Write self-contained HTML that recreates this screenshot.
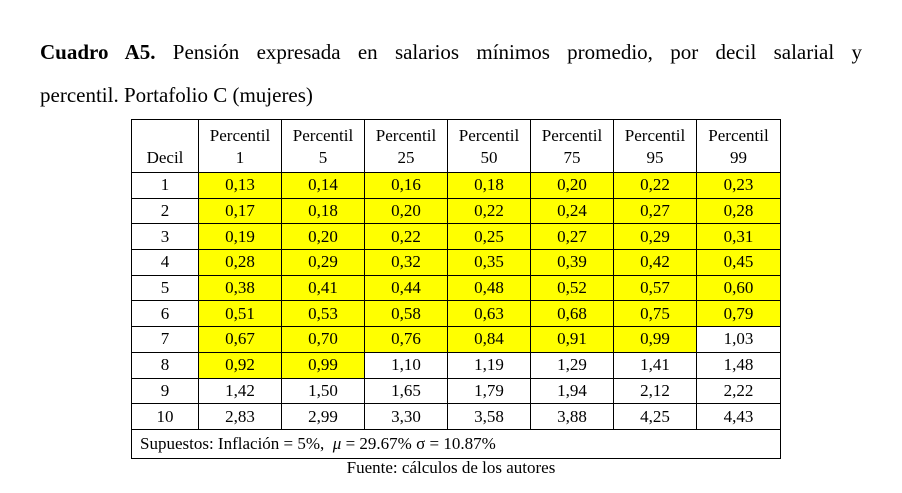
<!DOCTYPE html>
<html><head><meta charset="utf-8"><style>
body{margin:0;width:902px;height:493px;background:#fff;font-family:"Liberation Serif",serif;color:#000;position:relative;overflow:hidden}
.l1{position:absolute;left:40px;top:38px;width:822px;font-size:21px;line-height:28px;text-align:justify;text-align-last:justify;white-space:nowrap}
.l2{position:absolute;left:40px;top:81px;font-size:21px;line-height:28px}
table{position:absolute;left:131px;top:119px;border-collapse:collapse;font-size:17px}
td{border:1px solid #000;text-align:center;padding:0;height:24.7px;line-height:18px}
tr.h td{height:49px;vertical-align:bottom;padding-bottom:3px;line-height:22px}
.y{background:#ffff00}
.f{position:absolute;left:0;width:902px;top:458px;text-align:center;font-size:17px}
</style></head><body>
<div class="l1"><b>Cuadro A5.</b> Pensión expresada en salarios mínimos promedio, por decil salarial y</div>
<div class="l2">percentil. Portafolio C (mujeres)</div>
<table>
<colgroup><col style="width:67px"><col style="width:83px"><col style="width:83px"><col style="width:83px"><col style="width:83px"><col style="width:83px"><col style="width:83px"><col style="width:84px"></colgroup>
<tr class="h"><td>Decil</td><td>Percentil<br>1</td><td>Percentil<br>5</td><td>Percentil<br>25</td><td>Percentil<br>50</td><td>Percentil<br>75</td><td>Percentil<br>95</td><td>Percentil<br>99</td></tr>
<tr><td>1</td><td class="y">0,13</td><td class="y">0,14</td><td class="y">0,16</td><td class="y">0,18</td><td class="y">0,20</td><td class="y">0,22</td><td class="y">0,23</td></tr>
<tr><td>2</td><td class="y">0,17</td><td class="y">0,18</td><td class="y">0,20</td><td class="y">0,22</td><td class="y">0,24</td><td class="y">0,27</td><td class="y">0,28</td></tr>
<tr><td>3</td><td class="y">0,19</td><td class="y">0,20</td><td class="y">0,22</td><td class="y">0,25</td><td class="y">0,27</td><td class="y">0,29</td><td class="y">0,31</td></tr>
<tr><td>4</td><td class="y">0,28</td><td class="y">0,29</td><td class="y">0,32</td><td class="y">0,35</td><td class="y">0,39</td><td class="y">0,42</td><td class="y">0,45</td></tr>
<tr><td>5</td><td class="y">0,38</td><td class="y">0,41</td><td class="y">0,44</td><td class="y">0,48</td><td class="y">0,52</td><td class="y">0,57</td><td class="y">0,60</td></tr>
<tr><td>6</td><td class="y">0,51</td><td class="y">0,53</td><td class="y">0,58</td><td class="y">0,63</td><td class="y">0,68</td><td class="y">0,75</td><td class="y">0,79</td></tr>
<tr><td>7</td><td class="y">0,67</td><td class="y">0,70</td><td class="y">0,76</td><td class="y">0,84</td><td class="y">0,91</td><td class="y">0,99</td><td>1,03</td></tr>
<tr><td>8</td><td class="y">0,92</td><td class="y">0,99</td><td>1,10</td><td>1,19</td><td>1,29</td><td>1,41</td><td>1,48</td></tr>
<tr><td>9</td><td>1,42</td><td>1,50</td><td>1,65</td><td>1,79</td><td>1,94</td><td>2,12</td><td>2,22</td></tr>
<tr><td>10</td><td>2,83</td><td>2,99</td><td>3,30</td><td>3,58</td><td>3,88</td><td>4,25</td><td>4,43</td></tr>
<tr><td colspan="8" style="text-align:left;padding-left:8px;height:28px">Supuestos: Inflación = 5%,&nbsp; <i>μ</i> = 29.67% σ = 10.87%</td></tr>
</table>
<div class="f">Fuente: cálculos de los autores</div>
</body></html>
